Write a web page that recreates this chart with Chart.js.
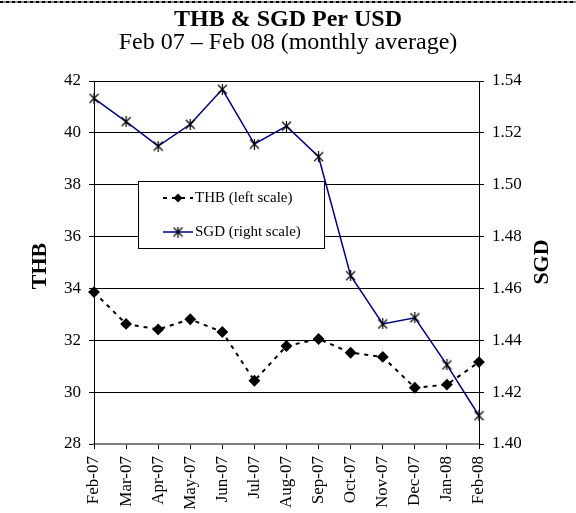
<!DOCTYPE html>
<html>
<head>
<meta charset="utf-8">
<script src="https://cdn.jsdelivr.net/npm/chart.js@4"></script>
<style>
  html, body { margin: 0; padding: 0; background: #fff; }
  #wrap { width: 576px; height: 513px; }
</style>
</head>
<body>
<div id="wrap"><canvas id="c" width="576" height="513"></canvas></div>
<script>
// monthly averages
const months = ['Feb-07', 'Mar-07', 'Apr-07', 'May-07', 'Jun-07', 'Jul-07', 'Aug-07',
                'Sep-07', 'Oct-07', 'Nov-07', 'Dec-07', 'Jan-08', 'Feb-08'];
const thb = [33.86, 32.63, 32.42, 32.81, 32.32, 30.44, 31.78, 32.05, 31.52, 31.36, 30.17, 30.29, 31.16];
const sgd = [1.5333, 1.5243, 1.5149, 1.5233, 1.5368, 1.5157, 1.5226, 1.5108, 1.4649, 1.4463, 1.4487, 1.4305, 1.4109];

const titleText = 'THB & SGD Per USD';
const subtitleText = 'Feb 07 \u2013 Feb 08 (monthly average)';
const thbLabel = 'THB (left scale)';
const sgdLabel = 'SGD (right scale)';

const serif = "'Liberation Serif', 'Times New Roman', serif";

// excel-like star marker: X with a vertical bar
const star = document.createElement('canvas');
star.width = 11; star.height = 11;
(function () {
  const s = star.getContext('2d');
  s.strokeStyle = '#000';
  s.lineWidth = 1.2;
  s.beginPath();
  s.moveTo(1, 1); s.lineTo(10, 10);
  s.moveTo(10, 1); s.lineTo(1, 10);
  s.moveTo(5.5, 0); s.lineTo(5.5, 11);
  s.stroke();
})();

const decor = {
  id: 'decor',
  beforeDraw(chart) {
    const ctx = chart.ctx;
    ctx.save();
    ctx.fillStyle = '#fff';
    ctx.fillRect(0, 0, chart.width, chart.height);
    // dashed frame edge at the very top
    ctx.strokeStyle = '#888';
    ctx.lineWidth = 2;
    ctx.beginPath(); ctx.moveTo(0, 2); ctx.lineTo(chart.width, 2); ctx.stroke();
    ctx.strokeStyle = '#000';
    ctx.setLineDash([3, 3]);
    ctx.beginPath(); ctx.moveTo(0, 2); ctx.lineTo(chart.width, 2); ctx.stroke();
    ctx.restore();
  },
  afterDatasetsDraw(chart) {
    const ctx = chart.ctx;
    ctx.save();
    // axis titles
    ctx.fillStyle = '#000';
    ctx.font = 'bold 22px ' + serif;
    ctx.textAlign = 'center';
    ctx.textBaseline = 'middle';
    ctx.translate(40, 266); ctx.rotate(-Math.PI / 2); ctx.fillText('THB', 0, 0);
    ctx.setTransform(1, 0, 0, 1, 0, 0);
    ctx.translate(542, 262); ctx.rotate(-Math.PI / 2); ctx.fillText('SGD', 0, 0);
    ctx.setTransform(1, 0, 0, 1, 0, 0);

    // legend box
    const x = 138, y = 181, w = 186, h = 67;
    ctx.fillStyle = '#fff';
    ctx.fillRect(x, y, w, h);
    ctx.strokeStyle = '#000';
    ctx.lineWidth = 1;
    ctx.strokeRect(x + 0.5, y + 0.5, w, h);

    // THB sample
    const y1 = 198, y2 = 232;
    ctx.lineWidth = 2;
    ctx.setLineDash([4, 5]);
    ctx.beginPath(); ctx.moveTo(163, y1); ctx.lineTo(193, y1); ctx.stroke();
    ctx.setLineDash([]);
    ctx.fillStyle = '#000';
    ctx.beginPath();
    ctx.moveTo(178, y1 - 4.5); ctx.lineTo(182.5, y1); ctx.lineTo(178, y1 + 4.5); ctx.lineTo(173.5, y1);
    ctx.closePath(); ctx.fill();

    // SGD sample
    ctx.strokeStyle = '#000080';
    ctx.lineWidth = 1.5;
    ctx.beginPath(); ctx.moveTo(163, y2); ctx.lineTo(193, y2); ctx.stroke();
    ctx.drawImage(star, 178 - 5.5, y2 - 5.5);

    ctx.fillStyle = '#000';
    ctx.font = '15px ' + serif;
    ctx.textAlign = 'left';
    ctx.fillText(thbLabel, 195, y1);
    ctx.fillText(sgdLabel, 195, y2);
    ctx.restore();
  }
};

new Chart(document.getElementById('c'), {
  type: 'line',
  data: {
    labels: months,
    datasets: [
      {
        label: thbLabel,
        data: thb,
        yAxisID: 'y',
        borderColor: '#000',
        borderWidth: 2,
        borderDash: [4, 5],
        pointStyle: 'rectRot',
        pointRadius: 4.5,
        pointBackgroundColor: '#000',
        pointBorderColor: '#000',
        tension: 0
      },
      {
        label: sgdLabel,
        data: sgd,
        yAxisID: 'y1',
        borderColor: '#000080',
        borderWidth: 1.5,
        pointStyle: star,
        pointRadius: 5,
        tension: 0
      }
    ]
  },
  options: {
    responsive: false,
    animation: false,
    events: [],
    layout: { padding: 0 },
    plugins: {
      legend: { display: false },
      tooltip: { enabled: false },
      title: {
        display: true,
        text: titleText,
        color: '#000',
        font: { family: serif, size: 24, weight: 'bold', lineHeight: 0.8 },
        padding: { top: 10, bottom: 0 }
      },
      subtitle: {
        display: true,
        text: subtitleText,
        color: '#000',
        font: { family: serif, size: 24, weight: 'normal', lineHeight: 0.8 },
        padding: { top: 4, bottom: 28.6 }
      }
    },
    scales: {
      x: {
        afterFit(s) { s.height = 69; },
        grid: { drawOnChartArea: false, drawTicks: true, tickLength: 5, tickColor: '#000' },
        border: { display: true, color: '#808080', width: 2 },
        ticks: {
          autoSkip: false, minRotation: 90, maxRotation: 90, padding: 7,
          color: '#000', font: { family: serif, size: 17 }
        }
      },
      y: {
        position: 'left',
        min: 28, max: 42,
        afterFit(s) { s.width = 94; },
        grid: {
          color: ctx => (ctx.tick && ctx.tick.value === 28) ? '#808080' : '#000',
          lineWidth: 1, drawTicks: true, tickLength: 5, tickColor: '#000'
        },
        border: { display: true, color: '#000', width: 1 },
        ticks: { stepSize: 2, padding: 8, color: '#000', font: { family: serif, size: 17 } }
      },
      y1: {
        position: 'right',
        min: 1.40, max: 1.54,
        afterFit(s) { s.width = 97; },
        grid: { drawOnChartArea: false, drawTicks: true, tickLength: 5, tickColor: '#000' },
        border: { display: true, color: '#000', width: 1 },
        ticks: {
          stepSize: 0.02, padding: 8, color: '#000', font: { family: serif, size: 17 },
          callback: v => Number(v).toFixed(2)
        }
      }
    }
  },
  plugins: [decor]
});
</script>
</body>
</html>
